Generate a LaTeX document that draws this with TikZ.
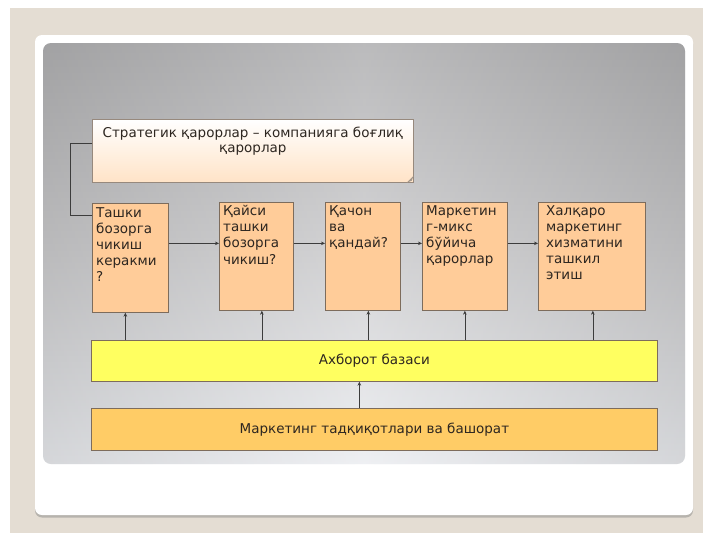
\documentclass[tikz,border=0pt]{standalone}
\usepackage{fontspec}
\setmainfont{DejaVu Sans}
\usetikzlibrary{arrows.meta,shadows}

\definecolor{pagebg}{RGB}{228,221,211}
\definecolor{panelTop}{RGB}{168,168,170}
\definecolor{panelMid}{RGB}{200,200,202}
\definecolor{panelBot}{RGB}{234,236,240}
\definecolor{peach}{RGB}{255,204,153}
\definecolor{boxedge}{RGB}{125,108,92}
\definecolor{baryellow}{RGB}{255,255,96}
\definecolor{barorange}{RGB}{255,204,102}
\definecolor{ink}{RGB}{45,38,32}
\definecolor{wire}{RGB}{60,60,60}

\tikzset{
  stage/.style={draw=boxedge, line width=0.7pt, fill=peach, anchor=north west, inner sep=0pt},
  stagetext/.style={anchor=north west, inner sep=0pt, align=left, text=ink,
    font=\fontsize{13.5}{16.2}\selectfont},
  bar/.style={draw=boxedge, line width=0.7pt, anchor=north west, inner sep=0pt},
  bartext/.style={text=ink, font=\fontsize{13.5}{16}\selectfont},
  arr/.style={draw=wire, line width=0.6pt, -{Stealth[length=4pt,width=3.6pt]}},
  conn/.style={draw=wire, line width=0.6pt}
}

\begin{document}
\begin{tikzpicture}[x=1pt,y=-1pt]
\useasboundingbox (0,0) rectangle (703,533);

% page background and slide card
\fill[white] (0,0) rectangle (703,533);
\fill[pagebg] (10,8) rectangle (703,533);
\fill[white, rounded corners=7pt, drop shadow={shadow xshift=0pt, shadow yshift=-2.5pt, opacity=0.45}]
  (35,35) rectangle (693,515);

% grey content panel with soft vignette
\shade[rounded corners=8pt, top color=panelTop, bottom color=panelBot, middle color=panelMid]
  (43,43) rectangle (685,464);
\shade[rounded corners=8pt, left color=black!45, right color=black!45, middle color=white, opacity=0.22]
  (43,43) rectangle (685,464);

% strategic decisions banner
\node[draw=boxedge!80, line width=0.7pt, top color=white, bottom color=peach!55,
      anchor=north west, minimum width=321pt, minimum height=63pt, inner sep=0pt] (title) at (92,119) {};
\node[text=ink, align=center, font=\fontsize{13.5}{15.5}\selectfont, anchor=north] (titletext)
  at ([yshift=-4pt]title.north) {Стратегик қарорлар – компанияга боғлиқ\\қарорлар};
\fill[boxedge!70] ([xshift=-7pt]title.south east) -- ([yshift=7pt]title.south east)
  -- ([xshift=-2pt,yshift=2pt]title.south east) -- cycle;

% decision stages
\node[stage, minimum width=76pt, minimum height=109pt] (b1) at (92,203) {};
\node[stage, minimum width=74pt, minimum height=108pt] (b2) at (219,202) {};
\node[stage, minimum width=75pt, minimum height=108pt] (b3) at (325,202) {};
\node[stage, minimum width=85pt, minimum height=108pt] (b4) at (422,202) {};
\node[stage, minimum width=107pt, minimum height=108pt] (b5) at (538,202) {};

\node[stagetext] (t1) at ([xshift=4pt,yshift=-4pt]b1.north west) {Ташки\\бозорга\\чикиш\\керакми\\?};
\node[stagetext] (t2) at ([xshift=4pt,yshift=-3pt]b2.north west) {Қайси\\ташки\\бозорга\\чикиш?};
\node[stagetext] (t3) at ([xshift=4pt,yshift=-3pt]b3.north west) {Қачон\\ва\\қандай?};
\node[stagetext] (t4) at ([xshift=4pt,yshift=-3pt]b4.north west) {Маркетин\\г-микс\\бўйича\\қарорлар};
\node[stagetext] (t5) at ([xshift=8pt,yshift=-3pt]b5.north west) {Халқаро\\маркетинг\\хизматини\\ташкил\\этиш};

% information base and research bars
\node[bar, fill=baryellow, minimum width=566pt, minimum height=41pt] (info) at (91,340) {};
\node[bartext] (infotext) at (info.center) {Ахборот базаси};
\node[bar, fill=barorange, minimum width=566pt, minimum height=42pt] (research) at (91,408) {};
\node[bartext] (researchtext) at (research.center) {Маркетинг тадқиқотлари ва башорат};

% flow between stages
\draw[arr] ([yshift=14.5pt]b1.east) -- ([yshift=14.5pt]b1.east -| b2.west);
\draw[arr] ([yshift=13pt]b2.east) -- ([yshift=13pt]b2.east -| b3.west);
\draw[arr] ([yshift=13pt]b3.east) -- ([yshift=13pt]b3.east -| b4.west);
\draw[arr] ([yshift=13pt]b4.east) -- ([yshift=13pt]b4.east -| b5.west);

% banner ties into the first stage
\draw[conn] ([yshift=7.5pt]title.west) -- ++(-22,0) |- ([yshift=42.5pt]b1.west);

% information base feeds every stage
\draw[arr] ([xshift=-5pt]b1.south |- info.north) -- ([xshift=-5pt]b1.south);
\draw[arr] ([xshift=5.5pt]b2.south |- info.north) -- ([xshift=5.5pt]b2.south);
\draw[arr] ([xshift=5.5pt]b3.south |- info.north) -- ([xshift=5.5pt]b3.south);
\draw[arr] ([xshift=0pt]b4.south |- info.north) -- ([xshift=0pt]b4.south);
\draw[arr] ([xshift=1pt]b5.south |- info.north) -- ([xshift=1pt]b5.south);

% research feeds the information base
\draw[arr] ([xshift=-15pt]research.north) -- ([xshift=-15pt]info.south);
\end{tikzpicture}
\end{document}
